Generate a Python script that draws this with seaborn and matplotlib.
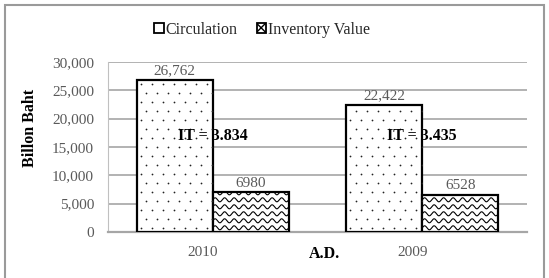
import numpy as np
import pandas as pd
import matplotlib
matplotlib.use("Agg")
import matplotlib.pyplot as plt
from matplotlib.patches import Rectangle
from matplotlib.ticker import FuncFormatter
from matplotlib.transforms import ScaledTranslation
import seaborn as sns

# data
years = ["2010", "2009"]
series = ["Circulation", "Inventory Value"]
circulation = [26762, 22422]
inventory = [6980, 6528]
it_labels = ["IT = 3.834", "IT = 3.435"]

df = pd.DataFrame({
    "year": years * 2,
    "series": [series[0]] * 2 + [series[1]] * 2,
    "value": circulation + inventory,
})

sns.set_style("white")
plt.rcParams["font.family"] = ["Liberation Serif", "DejaVu Serif"]
grey_txt = "#595959"
grid_col = "#a6a6a6"

fig = plt.figure(figsize=(5.49, 2.78), dpi=100)
ax = fig.add_axes([108 / 549, 1 - 232 / 278, 419 / 549, 170 / 278])

sns.barplot(data=df, x="year", y="value", hue="series", order=years,
            hue_order=series, palette=["white", "white"], saturation=1,
            edgecolor="black", linewidth=1.6, width=0.726, errorbar=None,
            ax=ax, zorder=3)

ax.set_xlim(-0.5, 1.5)
ax.set_ylim(0, 30000)
ax.set_yticks(np.arange(0, 30001, 5000))
ax.yaxis.set_major_formatter(FuncFormatter(lambda v, p: f"{v:,.0f}"))
ax.grid(axis="y", color=grid_col, linewidth=1.2, zorder=0)
ax.set_axisbelow(True)
for s in ["top", "right"]:
    ax.spines[s].set_visible(False)
ax.spines["left"].set_color("#c0c0c0")
ax.spines["bottom"].set_color(grid_col)
ax.spines["bottom"].set_linewidth(1.6)
ax.tick_params(axis="both", length=0, labelsize=11, labelcolor=grey_txt)
ax.tick_params(axis="x", pad=10)
ax.tick_params(axis="y", pad=10)
# year labels sit a little left of the group centres in the original
shift = ScaledTranslation(-0.10, 0, fig.dpi_scale_trans)
for lbl in ax.get_xticklabels():
    lbl.set_transform(lbl.get_transform() + shift)

px_y = 30000 / 170
px_x = 2 / 419

# sparse dotted fill for circulation, clipped to each bar
for p in ax.containers[0]:
    x0, y0, w, h = p.get_x(), p.get_y(), p.get_width(), p.get_height()
    rows = np.arange(y0 + 4 * px_y, y0 + h, 9 * px_y)
    for k, yy in enumerate(rows):
        off = 5.5 * px_x if k % 2 else 0
        xs = np.arange(x0 + 4 * px_x + off, x0 + w, 11 * px_x)
        sc = ax.scatter(xs, np.full_like(xs, yy), s=1.6, color="#222222",
                        linewidths=0, zorder=3.5)
        sc.set_clip_path(p)

# wavy fill for inventory value, clipped to each bar
step, amp, period = 7 * px_y, 2.0 * px_y, 9.5 * px_x
for p in ax.containers[1]:
    x0, y0, w, h = p.get_x(), p.get_y(), p.get_width(), p.get_height()
    xs = np.linspace(x0, x0 + w, 300)
    for yy in np.arange(y0 + step * 0.6, y0 + h + step, step):
        ln, = ax.plot(xs, yy + amp * np.sin(2 * np.pi * (xs - x0) / period),
                      color="black", lw=0.8, zorder=3.5)
        ln.set_clip_path(p)

ax.bar_label(ax.containers[0], labels=[f"{v:,.0f}" for v in circulation],
             padding=2, color=grey_txt, fontsize=11)
ax.bar_label(ax.containers[1], labels=[f"{v:.0f}" for v in inventory],
             padding=2, color=grey_txt, fontsize=11)

for i, t in enumerate(it_labels):
    ax.text(i, 17000, t, ha="center", va="center", fontsize=11.5,
            fontweight="bold", color="black", zorder=5)

ax.set_ylabel("Billon Baht", fontsize=11.5, fontweight="bold", color="black")
ax.yaxis.set_label_coords(-0.168, 0.61)
ax.set_xlabel("A.D.", fontsize=11.5, fontweight="bold", color="black")
ax.xaxis.set_label_coords(0.517, -0.08)

# legend
handles, labels = ax.get_legend_handles_labels()
for h in handles:
    h.set_linewidth(1.3)
handles[0].set_hatch(".")
handles[1].set_hatch("xxx")
ax.legend(handles, labels, loc="center", bbox_to_anchor=(262 / 549, 1 - 30 / 278),
          bbox_transform=fig.transFigure, ncol=2, frameon=False, fontsize=11.5,
          handlelength=0.6, handleheight=0.6, handletextpad=0.1,
          columnspacing=1.2)

# outer frame of the picture
fig.patches.append(Rectangle((5 / 549, -0.05), 539 / 549, 1.05 - 5 / 278,
                             transform=fig.transFigure, fill=False,
                             edgecolor="#9a9a9a", linewidth=1.5))

fig.savefig("out.png", dpi=100)
